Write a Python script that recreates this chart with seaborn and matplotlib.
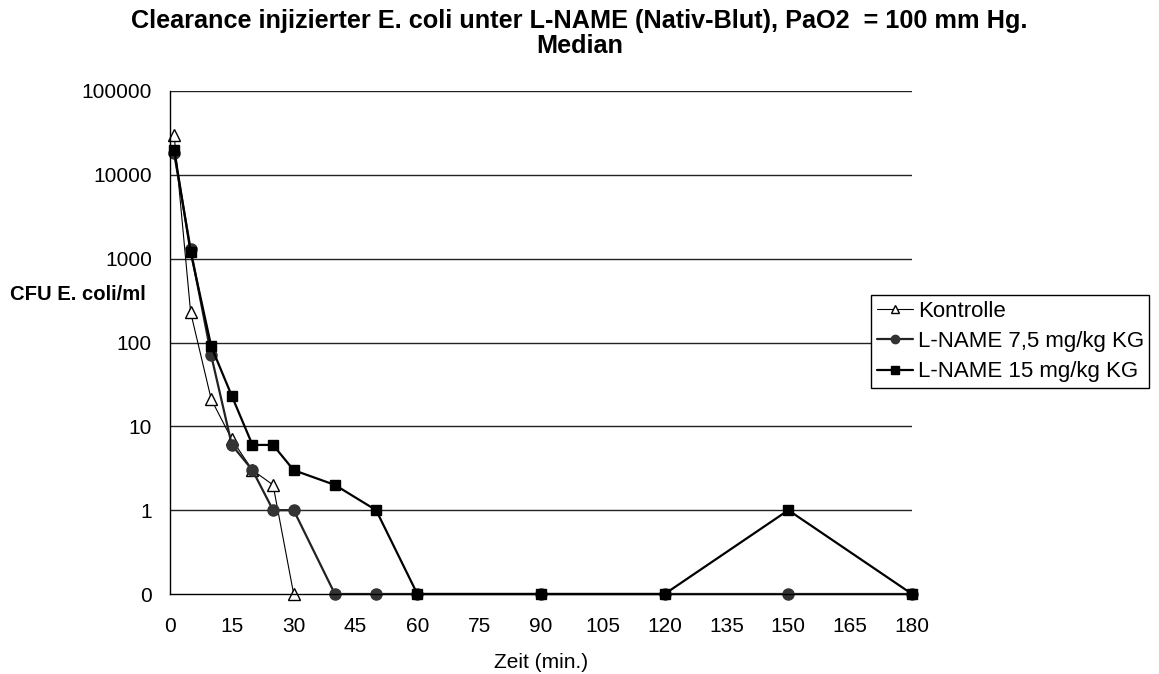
import numpy as np
import pandas as pd
import matplotlib
matplotlib.use("Agg")
import matplotlib.pyplot as plt
import seaborn as sns

# time points (min) and median CFU values per group (0 = below detection)
zeit_kontrolle = [1, 5, 10, 15, 20, 25, 30]
cfu_kontrolle = [30000, 230, 21, 7, 3, 2, 0]

zeit_lname = [1, 5, 10, 15, 20, 25, 30, 40, 50, 60, 90, 120, 150, 180]
cfu_lname_75 = [18000, 1300, 70, 6, 3, 1, 1, 0, 0, 0, 0, 0, 0, 0]
cfu_lname_15 = [20000, 1200, 90, 23, 6, 6, 3, 2, 1, 0, 0, 0, 1, 0]

labels = ["Kontrolle", "L-NAME 7,5 mg/kg KG", "L-NAME 15 mg/kg KG"]
y_ticks = [0.1, 1, 10, 100, 1000, 10000, 100000]
y_ticklabels = ["0", "1", "10", "100", "1000", "10000", "100000"]
x_ticks = list(range(0, 181, 15))

sns.set_style("white", {"text.color": "black", "axes.labelcolor": "black",
                        "xtick.color": "black", "ytick.color": "black"})
plt.rcParams["font.family"] = ["Liberation Sans", "DejaVu Sans"]

fig = plt.figure(figsize=(11.59, 6.74), dpi=100)
ax = fig.add_axes([170 / 1159, 1 - 594 / 674, 742 / 1159, 503 / 674])

# "0" is drawn on the floor of the log axis
floor = 0.1
series = [
    (zeit_kontrolle, cfu_kontrolle, labels[0], "^", "white", "black", 0.8, 8),
    (zeit_lname, cfu_lname_75, labels[1], "o", "#333333", "#222222", 1.6, 8),
    (zeit_lname, cfu_lname_15, labels[2], "s", "black", "black", 1.6, 7.5),
]
for zeit, cfu, lab, mk, fc, lc, lw, ms in series:
    df = pd.DataFrame({"Zeit": zeit, "CFU": [v if v > 0 else floor for v in cfu]})
    sns.lineplot(data=df, x="Zeit", y="CFU", ax=ax, label=lab, color=lc,
                 linewidth=lw, marker=mk, markersize=ms,
                 markerfacecolor=fc, markeredgecolor=fc if fc != "white" else "black",
                 markeredgewidth=1.0, clip_on=False, legend=True)

ax.set_yscale("log")
ax.set_ylim(0.1, 100000)
ax.set_xlim(0, 180)
ax.set_yticks(y_ticks)
ax.set_yticklabels(y_ticklabels)
ax.yaxis.set_minor_locator(matplotlib.ticker.NullLocator())
ax.set_xticks(x_ticks)
ax.tick_params(axis="both", direction="out", width=1, color="black",
               labelcolor="black", labelsize=15)
ax.tick_params(axis="x", length=4.5, pad=12)
ax.tick_params(axis="y", length=5, pad=8)
for y in y_ticks[1:]:
    ax.axhline(y, color="#222222", linewidth=1.0, zorder=0)

for s in ["top", "right"]:
    ax.spines[s].set_visible(False)
for s in ["left", "bottom"]:
    ax.spines[s].set_color("black")
    ax.spines[s].set_linewidth(1.0)

ax.set_xlabel("Zeit (min.)", fontsize=15, labelpad=12, color="black")
ax.set_ylabel("")
fig.text(0.009, 1 - 294 / 674, "CFU E. coli/ml", fontsize=14.6, fontweight="bold",
         ha="left", va="center", color="black")

fig.text(0.5, 1 - 28 / 674,
         "Clearance injizierter E. coli unter L-NAME (Nativ-Blut), PaO2  = 100 mm Hg.",
         fontsize=18.2, fontweight="bold", ha="center", va="baseline", color="black")
fig.text(0.5, 1 - 53 / 674, "Median", fontsize=18.2, fontweight="bold",
         ha="center", va="baseline", color="black")

handles, labs = ax.get_legend_handles_labels()
ax.get_legend().remove()
leg = fig.legend(handles, labs, loc="center left",
                 bbox_to_anchor=(871 / 1159, 1 - 341.5 / 674), fontsize=16,
                 frameon=True, fancybox=False, edgecolor="black", framealpha=1,
                 borderpad=0.25, labelspacing=0.42, handlelength=1.62,
                 handletextpad=0.23, borderaxespad=0, markerscale=0.75,
                 labelcolor="black")
leg.get_frame().set_linewidth(1.0)

fig.savefig("out.png", dpi=100)
